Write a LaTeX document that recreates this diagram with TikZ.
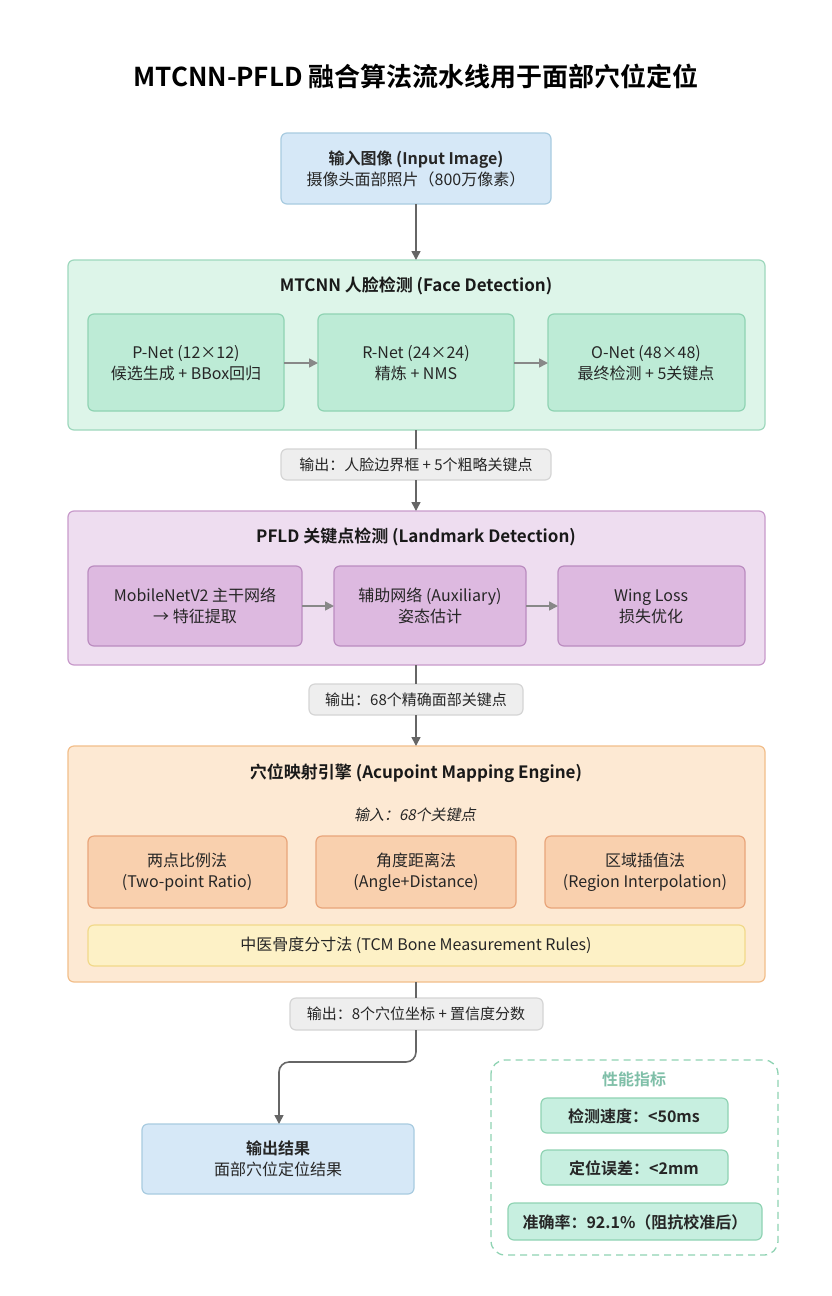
\documentclass[tikz,border=0pt]{standalone}
\usepackage{fontspec}
\setmainfont{Noto Sans CJK SC}[BoldFont={Noto Sans CJK SC Bold}]
\usetikzlibrary{arrows.meta}
\definecolor{bluef}{HTML}{D6E8F7}\definecolor{blued}{HTML}{A8CBE0}
\definecolor{grcf}{HTML}{DDF5E9}\definecolor{grcd}{HTML}{9ED8BD}
\definecolor{grsf}{HTML}{BDEBD6}\definecolor{grsd}{HTML}{8FD3B3}
\definecolor{pucf}{HTML}{EEDDF0}\definecolor{pucd}{HTML}{C89ACB}
\definecolor{pusf}{HTML}{DDB9E0}\definecolor{pusd}{HTML}{BB8CC0}
\definecolor{orcf}{HTML}{FDE9D3}\definecolor{orcd}{HTML}{F2BE8A}
\definecolor{orsf}{HTML}{F9D0AE}\definecolor{orsd}{HTML}{E9A57A}
\definecolor{yef}{HTML}{FDF1C6}\definecolor{yed}{HTML}{F1D98A}
\definecolor{pff}{HTML}{C7EFE0}\definecolor{ptt}{HTML}{7FBFA8}
\definecolor{lab}{HTML}{EEEEEE}\definecolor{labd}{HTML}{D5D5D5}
\definecolor{arr}{HTML}{666666}\definecolor{sarr}{HTML}{888888}
\begin{document}
\begin{tikzpicture}[x=1pt,y=-1pt,
  box/.style={rounded corners=6pt,line width=1.2pt},
  txt/.style={font=\fontsize{16}{21}\selectfont,align=center,text=black!85},
  ltxt/.style={font=\fontsize{15}{19}\selectfont,align=center,text=black!85},
  btxt/.style={font=\fontsize{17}{22}\selectfont\bfseries,align=center,text=black!90},
  conn/.style={draw=arr,line width=1.6pt},
  arrw/.style={conn,-{Triangle[length=9pt,width=9pt]}},
  sarrw/.style={draw=sarr,line width=1.6pt,-{Triangle[length=9pt,width=9pt]}}]
\fill[white] (0,0) rectangle (832,1296);
\path[use as bounding box] (0,0) rectangle (832,1296);
\node[font=\fontsize{26}{30}\selectfont\bfseries] (title) at (416,77) {MTCNN-PFLD 融合算法流水线用于面部穴位定位};
% input
\draw[box,fill=bluef,draw=blued] (281,133) rectangle (551,204);
\node[txt] (in) at (416,169) {\textbf{输入图像 (Input Image)}\\摄像头面部照片（800万像素）};
% MTCNN
\draw[box,fill=grcf,draw=grcd] (68,260) rectangle (765,430);
\node[btxt] (mt) at (416,286) {MTCNN 人脸检测 (Face Detection)};
\draw[box,fill=grsf,draw=grsd] (88,314) rectangle (284,411);
\draw[box,fill=grsf,draw=grsd] (318,314) rectangle (514,411);
\draw[box,fill=grsf,draw=grsd] (548,314) rectangle (745,411);
\node[txt] (p) at (186,363) {P-Net (12×12)\\候选生成 + BBox回归};
\node[txt] (r) at (416,363) {R-Net (24×24)\\精炼 + NMS};
\node[txt] (o) at (646,363) {O-Net (48×48)\\最终检测 + 5关键点};
\coordinate (pR) at (284,363); \coordinate (rL) at (318,363);
\coordinate (rR) at (514,363); \coordinate (oL) at (548,363);
\draw[sarrw] (pR) -- (rL);
\draw[sarrw] (rR) -- (oL);
% label1
\draw[box,fill=lab,draw=labd] (281,449) rectangle (551,480);
\node[ltxt] (l1) at (416,465) {输出：人脸边界框 + 5个粗略关键点};
% PFLD
\draw[box,fill=pucf,draw=pucd] (68,511) rectangle (765,665);
\node[btxt] (pf) at (416,537) {PFLD 关键点检测 (Landmark Detection)};
\draw[box,fill=pusf,draw=pusd] (88,566) rectangle (302,646);
\draw[box,fill=pusf,draw=pusd] (334,566) rectangle (526,646);
\draw[box,fill=pusf,draw=pusd] (558,566) rectangle (745,646);
\node[txt] (m) at (195,606) {MobileNetV2 主干网络\\→ 特征提取};
\node[txt] (x) at (430,606) {辅助网络 (Auxiliary)\\姿态估计};
\node[txt] (w) at (651,606) {Wing Loss\\损失优化};
\coordinate (mR) at (302,606); \coordinate (xL) at (334,606);
\coordinate (xR) at (526,606); \coordinate (wL) at (558,606);
\draw[sarrw] (mR) -- (xL);
\draw[sarrw] (xR) -- (wL);
% label2
\draw[box,fill=lab,draw=labd] (309,684) rectangle (523,715);
\node[ltxt] (l2) at (416,700) {输出：68个精确面部关键点};
% Acupoint
\draw[box,fill=orcf,draw=orcd] (68,746) rectangle (765,982);
\node[btxt] (ac) at (416,773) {穴位映射引擎 (Acupoint Mapping Engine)};
\node[ltxt,xslant=0.2] (ain) at (416,815) {输入：68个关键点};
\draw[box,fill=orsf,draw=orsd] (88,836) rectangle (287,908);
\draw[box,fill=orsf,draw=orsd] (316,836) rectangle (516,908);
\draw[box,fill=orsf,draw=orsd] (545,836) rectangle (745,908);
\node[txt] (s1) at (187,872) {两点比例法\\(Two-point Ratio)};
\node[txt] (s2) at (416,872) {角度距离法\\(Angle+Distance)};
\node[txt] (s3) at (645,872) {区域插值法\\(Region Interpolation)};
\draw[box,fill=yef,draw=yed] (88,925) rectangle (745,966);
\node[txt] (tcm) at (416,945) {中医骨度分寸法 (TCM Bone Measurement Rules)};
% label3
\draw[box,fill=lab,draw=labd] (290,998) rectangle (543,1030);
\node[ltxt] (l3) at (416,1014) {输出：8个穴位坐标 + 置信度分数};
% output
\draw[box,fill=bluef,draw=blued] (142,1124) rectangle (414,1194);
\node[txt] (out) at (278,1159) {\textbf{输出结果}\\面部穴位定位结果};
% connectors
\coordinate (a0) at (416,204); \coordinate (a1) at (416,260);
\coordinate (b0) at (416,430); \coordinate (b1) at (416,449);
\coordinate (b2) at (416,480); \coordinate (b3) at (416,511);
\coordinate (c0) at (416,665); \coordinate (c1) at (416,684);
\coordinate (c2) at (416,715); \coordinate (c3) at (416,746);
\coordinate (d0) at (416,982); \coordinate (d1) at (416,998);
\coordinate (d2) at (416,1030); \coordinate (d3) at (279,1124);
\draw[arrw] (a0) -- (a1);
\draw[conn] (b0) -- (b1); \draw[arrw] (b2) -- (b3);
\draw[conn] (c0) -- (c1); \draw[arrw] (c2) -- (c3);
\draw[conn] (d0) -- (d1);
\draw[arrw,rounded corners=10pt] (d2) -- (416,1062) -- (279,1062) -- (d3);
% perf
\draw[rounded corners=14pt,dash pattern=on 7pt off 5pt,draw=grsd,line width=1.3pt] (491,1060) rectangle (778,1255);
\node[font=\fontsize{16}{20}\selectfont\bfseries,text=ptt] (pt) at (634,1079) {性能指标};
\draw[box,fill=pff,draw=grsd] (541,1098) rectangle (728,1133);
\node[txt,font=\fontsize{16}{20}\selectfont\bfseries] (p1) at (634,1116) {检测速度：<50ms};
\draw[box,fill=pff,draw=grsd] (541,1150) rectangle (728,1185);
\node[txt,font=\fontsize{16}{20}\selectfont\bfseries] (p2) at (634,1168) {定位误差：<2mm};
\draw[box,fill=pff,draw=grsd] (508,1203) rectangle (762,1240);
\node[txt,font=\fontsize{16}{20}\selectfont\bfseries] (p3) at (635,1222) {准确率：92.1\%（阻抗校准后）};
\end{tikzpicture}
\end{document}
